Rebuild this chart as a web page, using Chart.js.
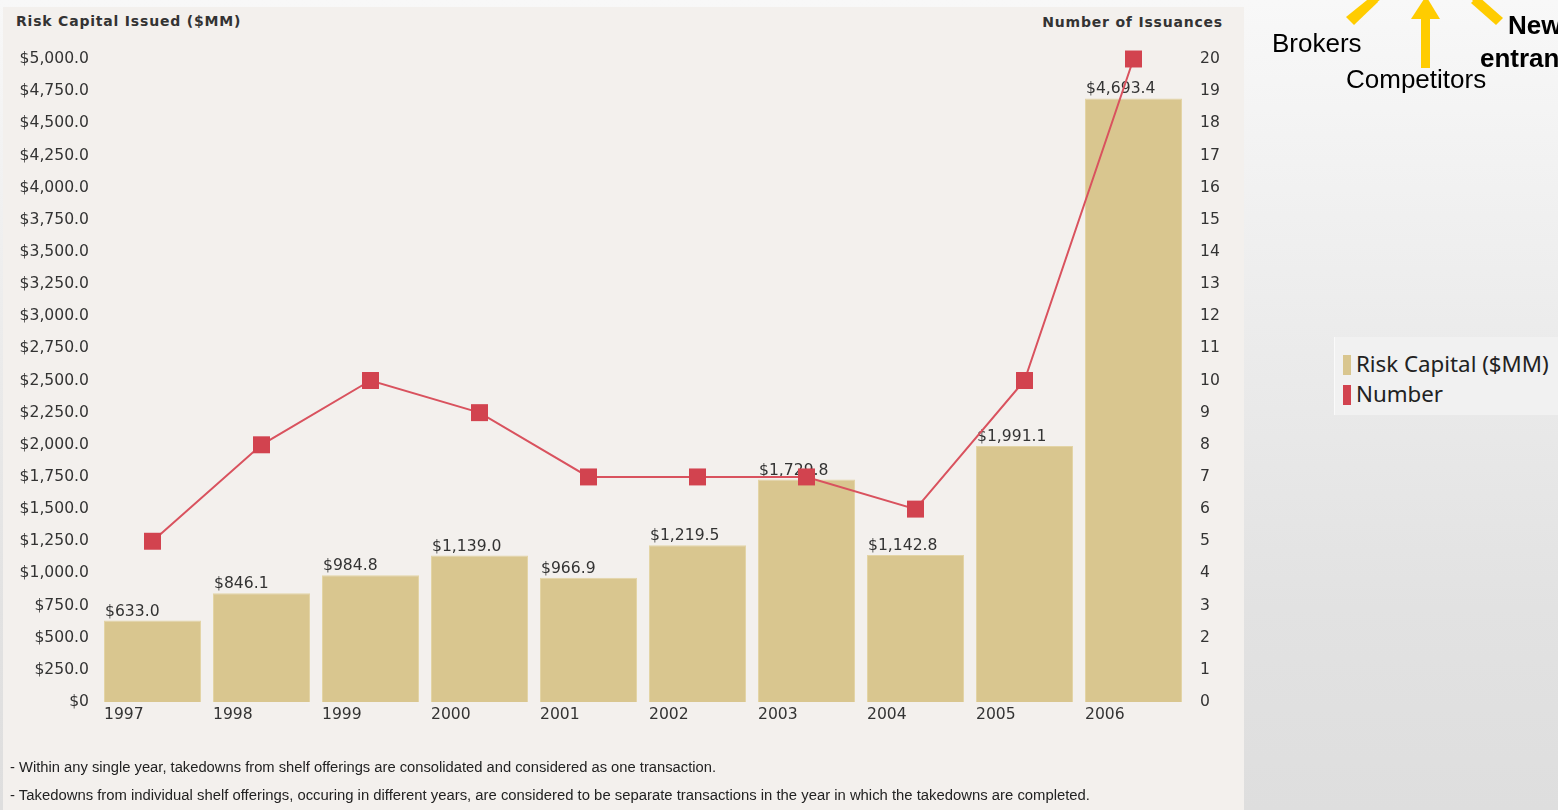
<!DOCTYPE html>
<html><head><meta charset="utf-8">
<script src="https://cdn.jsdelivr.net/npm/chart.js@4.4.0/dist/chart.umd.min.js"></script>
<style>
html,body{margin:0;padding:0;width:1558px;height:810px;overflow:hidden;}
body{background:linear-gradient(#f8f8f8 0%,#ececec 40%,#e2e2e2 75%,#dedede 100%);font-family:"DejaVu Sans",sans-serif;position:relative;}
#panel{position:absolute;left:3px;top:7px;width:1241px;height:803px;background:#f3f0ed;}
#wrap{position:absolute;left:0;top:0;width:1558px;height:810px;}
.title{position:absolute;font-weight:bold;font-size:14px;letter-spacing:0.8px;color:#333;white-space:nowrap;line-height:18px;font-family:"DejaVu Sans",sans-serif;}
.note{position:absolute;left:10px;font-family:"Liberation Sans Narrow","Liberation Sans",sans-serif;font-size:14px;color:#222;white-space:nowrap;transform-origin:0 50%;line-height:16px;}
#legend{position:absolute;left:1334px;top:337px;width:224px;height:78px;background:#f1f1f1;border-left:1px solid #fafafa;font-family:"Noto Sans","Open Sans",sans-serif;font-size:22.3px;color:#222;}
.li{position:absolute;left:21px;white-space:nowrap;line-height:30px;}
.sw{position:absolute;left:8px;width:8px;height:20px;}
.lab{position:absolute;font-family:"Liberation Sans",Arial,sans-serif;font-size:26px;color:#000;white-space:nowrap;line-height:30px;}
svg{position:absolute;left:0;top:0;}
</style></head>
<body>
<div id="panel"></div>
<div class="title" id="t1" style="left:16px;top:12px;">Risk Capital Issued ($MM)</div>
<div class="title" id="t2" style="right:335px;top:13px;">Number of Issuances</div>
<div id="wrap"><canvas id="c" width="1558" height="810"></canvas></div>
<div class="note" id="n1" style="top:759px;">- Within any single year, takedowns from shelf offerings are consolidated and considered as one transaction.</div>
<div class="note" id="n2" style="top:787px;">- Takedowns from individual shelf offerings, occuring in different years, are considered to be separate transactions in the year in which the takedowns are completed.</div>
<div id="legend">
  <div class="sw" style="top:18px;background:#d9c68f;"></div>
  <div class="li" style="top:12px;">Risk Capital ($MM)</div>
  <div class="sw" style="top:48px;background:#d2434f;"></div>
  <div class="li" style="top:42px;">Number</div>
</div>
<svg width="1558" height="120">
  <g fill="#ffcc00" stroke="none">
    <polygon points="1346,17 1354,25 1378,2 1372,-4"/>
    <polygon points="1370,8 1392,-10 1382,-14"/>
    <rect x="1421" y="18" width="9" height="50"/>
    <polygon points="1411,19 1440,19 1426,-4"/>
    <polygon points="1496,25 1503,18 1478,-4 1471,3"/>
    <polygon points="1480,8 1460,-12 1470,-14"/>
  </g>
</svg>
<div class="lab" style="left:1272px;top:28px;">Brokers</div>
<div class="lab" style="left:1346px;top:64px;">Competitors</div>
<div class="lab" style="left:1508px;top:10px;font-weight:bold;">New</div>
<div class="lab" style="left:1480px;top:43px;font-weight:bold;">entrants</div>
<script>
const years = ['1997','1998','1999','2000','2001','2002','2003','2004','2005','2006'];
const riskCapital = [633.0, 846.1, 984.8, 1139.0, 966.9, 1219.5, 1729.8, 1142.8, 1991.1, 4693.4];
const issuances = [5, 8, 10, 9, 7, 7, 7, 6, 10, 20];

const fmtMoney = v => v === 0 ? '$0' : '$' + Number(v).toLocaleString('en-US',{minimumFractionDigits:1,maximumFractionDigits:1});
const FONT = '"DejaVu Sans", sans-serif';
const FS = 15.6;

const labelsPlugin = {
  id: 'barLabels',
  afterDatasetDraw(chart, args) {
    if (args.index !== 0) return;
    const ctx = chart.ctx;
    const meta = chart.getDatasetMeta(0);
    ctx.save();
    ctx.font = FS + 'px ' + FONT;
    ctx.fillStyle = '#333';
    ctx.textAlign = 'left';
    meta.data.forEach((bar, i) => {
      const left = bar.x - bar.width / 2;
      ctx.textBaseline = 'alphabetic';
      ctx.fillText(fmtMoney(riskCapital[i]), left + 1, bar.y - 5);
      ctx.textBaseline = 'middle';
      ctx.fillText(years[i], left, bar.base + 13);
    });
    ctx.restore();
  }
};

new Chart(document.getElementById('c'), {
  type: 'bar',
  data: {
    labels: years,
    datasets: [
      { type: 'bar', label: 'Risk Capital ($MM)', data: riskCapital, backgroundColor: '#d9c68f',
        borderColor: '#e3d4a6', borderWidth: 1, barPercentage: 0.89, categoryPercentage: 1.0, yAxisID: 'y', order: 1 },
      { type: 'line', label: 'Number', data: issuances, borderColor: '#d9525e', borderWidth: 2,
        pointStyle: 'rect', pointRadius: 12, pointBackgroundColor: '#d2434f', pointBorderWidth: 0,
        tension: 0, yAxisID: 'y1', order: 0, clip: false }
    ]
  },
  options: {
    responsive: false,
    animation: false,
    layout: { padding: { left: 3, right: 330, top: 59, bottom: 108 } },
    plugins: { legend: { display: false }, tooltip: { enabled: false } },
    scales: {
      x: { display: false, offset: true },
      y: {
        position: 'left', min: 0, max: 5000,
        grid: { display: false, drawTicks: false }, border: { display: false },
        ticks: { stepSize: 250, padding: 9, color: '#333', font: { family: FONT, size: FS }, callback: v => fmtMoney(v) },
        afterFit: s => { s.width = 95; }
      },
      y1: {
        position: 'right', min: 0, max: 20,
        grid: { display: false, drawTicks: false }, border: { display: false },
        ticks: { stepSize: 1, padding: 12, color: '#333', font: { family: FONT, size: FS } },
        afterFit: s => { s.width = 40; }
      }
    }
  },
  plugins: [labelsPlugin]
});

function fit(id, w) {
  const el = document.getElementById(id);
  const cur = el.getBoundingClientRect().width;
  el.style.transform = 'scaleX(' + (w / cur) + ')';
}
fit('n1', 706);
fit('n2', 1080);
</script>
</body></html>
